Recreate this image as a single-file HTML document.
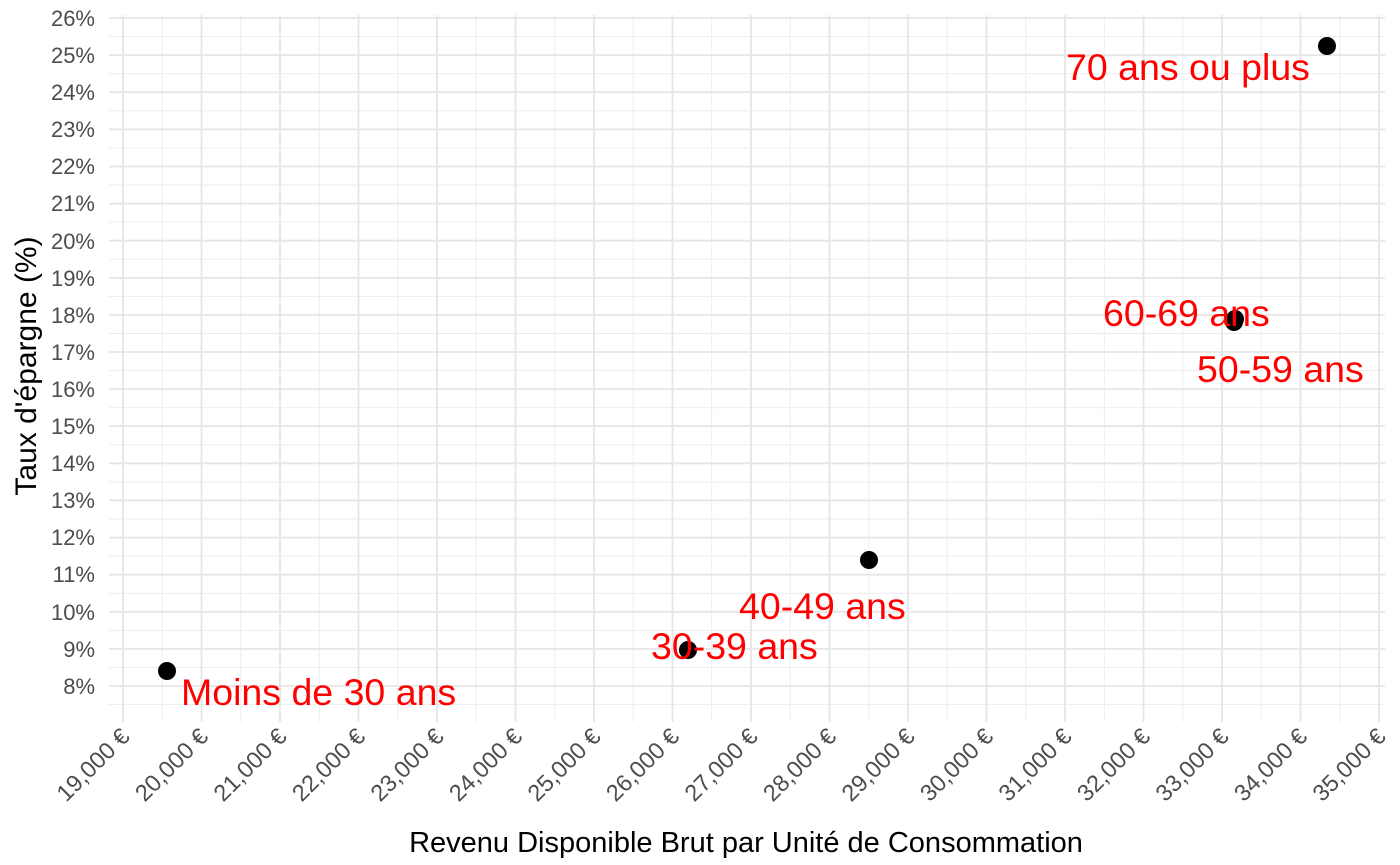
<!DOCTYPE html>
<html><head><meta charset="utf-8"><style>body{margin:0;background:#fff}svg{display:block;font-family:"Liberation Sans",sans-serif}</style></head><body>
<svg width="1400" height="865" xmlns="http://www.w3.org/2000/svg">
<path fill="none" stroke="#ebebeb" stroke-width="0.9" d="M109 704.6H1385M109 667.4H1385M109 630.4H1385M109 593.3H1385M109 556.2H1385M109 519H1385M109 482H1385M109 444.8H1385M109 407.7H1385M109 370.6H1385M109 333.5H1385M109 296.4H1385M109 259.2H1385M109 222.1H1385M109 185H1385M109 147.9H1385M109 110.8H1385M109 73.7H1385M109 36.6H1385
M162.25 15V722M240.75 15V722M319.25 15V722M397.75 15V722M476.25 15V722M554.75 15V722M633.25 15V722M711.75 15V722M790.25 15V722M868.75 15V722M947.25 15V722M1025.75 15V722M1104.25 15V722M1182.75 15V722M1261.25 15V722M1339.75 15V722"/>
<path fill="none" stroke="#e6e6e6" stroke-width="1.8" d="M109 686H1385M109 648.9H1385M109 611.8H1385M109 574.7H1385M109 537.6H1385M109 500.4H1385M109 463.3H1385M109 426.2H1385M109 389.1H1385M109 352H1385M109 314.9H1385M109 277.8H1385M109 240.7H1385M109 203.6H1385M109 166.5H1385M109 129.4H1385M109 92.2H1385M109 55.1H1385M109 18H1385
M123 15V722M201.5 15V722M280 15V722M358.5 15V722M437 15V722M515.5 15V722M594 15V722M672.5 15V722M751 15V722M829.5 15V722M908 15V722M986.5 15V722M1065 15V722M1143.5 15V722M1222 15V722M1300.5 15V722M1379 15V722"/>
<g font-size="22" fill="#4d4d4d" text-anchor="end">
<text x="95" y="694">8%</text><text x="95" y="657">9%</text><text x="95" y="620">10%</text><text x="95" y="582">11%</text><text x="95" y="545">12%</text><text x="95" y="508">13%</text><text x="95" y="471">14%</text><text x="95" y="434">15%</text><text x="95" y="397">16%</text><text x="95" y="360">17%</text><text x="95" y="323">18%</text><text x="95" y="286">19%</text><text x="95" y="249">20%</text><text x="95" y="211">21%</text><text x="95" y="174">22%</text><text x="95" y="137">23%</text><text x="95" y="100">24%</text><text x="95" y="63">25%</text><text x="95" y="26">26%</text>
</g>
<g font-size="23.5" fill="#4d4d4d" text-anchor="end">
<text transform="translate(131,738) rotate(-45)">19,000 €</text>
<text transform="translate(209.5,738) rotate(-45)">20,000 €</text>
<text transform="translate(288,738) rotate(-45)">21,000 €</text>
<text transform="translate(366.5,738) rotate(-45)">22,000 €</text>
<text transform="translate(445,738) rotate(-45)">23,000 €</text>
<text transform="translate(523.5,738) rotate(-45)">24,000 €</text>
<text transform="translate(602,738) rotate(-45)">25,000 €</text>
<text transform="translate(680.5,738) rotate(-45)">26,000 €</text>
<text transform="translate(759,738) rotate(-45)">27,000 €</text>
<text transform="translate(837.5,738) rotate(-45)">28,000 €</text>
<text transform="translate(916,738) rotate(-45)">29,000 €</text>
<text transform="translate(994.5,738) rotate(-45)">30,000 €</text>
<text transform="translate(1073,738) rotate(-45)">31,000 €</text>
<text transform="translate(1151.5,738) rotate(-45)">32,000 €</text>
<text transform="translate(1230,738) rotate(-45)">33,000 €</text>
<text transform="translate(1308.5,738) rotate(-45)">34,000 €</text>
<text transform="translate(1387,738) rotate(-45)">35,000 €</text>
</g>
<g fill="#000">
<circle cx="167" cy="671" r="9"/><circle cx="688" cy="650" r="9"/><circle cx="869" cy="560" r="9"/>
<circle cx="1234" cy="322" r="9"/><circle cx="1235" cy="319" r="9"/><circle cx="1327" cy="46" r="9"/>
</g>
<g fill="#ff0000" font-size="37.5">
<text x="181" y="705">Moins de 30 ans</text>
<text x="651" y="659">30-39 ans</text>
<text x="739" y="619">40-49 ans</text>
<text x="1197" y="382">50-59 ans</text>
<text x="1103" y="326">60-69 ans</text>
<text x="1066" y="80">70 ans ou plus</text>
</g>
<text x="746" y="852" font-size="29" text-anchor="middle" fill="#000">Revenu Disponible Brut par Unité de Consommation</text>
<text transform="translate(36,366) rotate(-90)" font-size="30" text-anchor="middle" fill="#000">Taux d'épargne (%)</text>
</svg>
</body></html>
